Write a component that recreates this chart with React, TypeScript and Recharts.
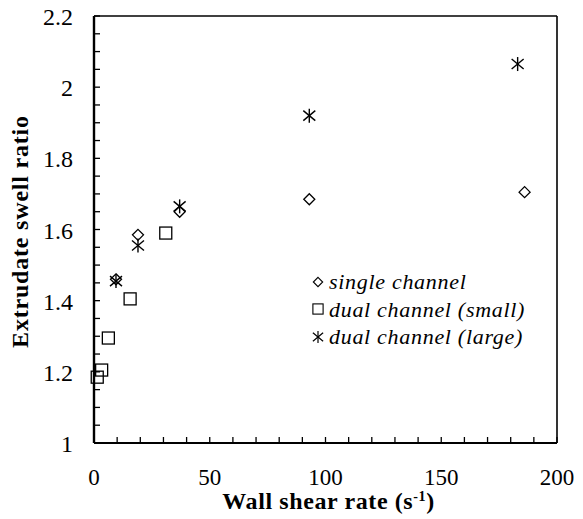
import { Legend, ReferenceLine, Scatter, ScatterChart, XAxis, YAxis } from 'recharts';

const singleX = [9.5, 19, 37, 93, 186];
const singleY = [1.46, 1.585, 1.65, 1.685, 1.705];
const smallX = [1.4, 3.3, 6.2, 15.6, 31];
const smallY = [1.185, 1.205, 1.295, 1.405, 1.59];
const largeX = [9.5, 19, 37, 93, 183];
const largeY = [1.455, 1.555, 1.665, 1.92, 2.065];

const xTicks = [0, 10, 20, 30, 40, 50, 60, 70, 80, 90, 100, 110, 120, 130, 140, 150, 160, 170, 180, 190, 200];
const xLabels = [0, 50, 100, 150, 200];
const yTicks = [
  1, 1.05, 1.1, 1.15, 1.2, 1.25, 1.3, 1.35, 1.4, 1.45, 1.5, 1.55, 1.6, 1.65, 1.7, 1.75, 1.8, 1.85,
  1.9, 1.95, 2, 2.05, 2.1, 2.15, 2.2,
];
const yLabels = [1, 1.2, 1.4, 1.6, 1.8, 2, 2.2];

const toPoints = (xs: number[], ys: number[]) => xs.map((x, i) => ({ x, y: ys[i] }));
const singleData = toPoints(singleX, singleY);
const smallData = toPoints(smallX, smallY);
const largeData = toPoints(largeX, largeY);

const serif = 'Liberation Serif, Times New Roman, Tinos, DejaVu Serif, serif';

const Diamond = ({ cx, cy }: any) => (
  <path
    d={`M${cx},${cy - 5.5} L${cx + 5.5},${cy} L${cx},${cy + 5.5} L${cx - 5.5},${cy} Z`}
    fill="none"
    stroke="#000"
    strokeWidth={1.3}
  />
);

const Square = ({ cx, cy }: any) => (
  <rect x={cx - 6} y={cy - 6} width={12} height={12} fill="none" stroke="#000" strokeWidth={1.3} />
);

const Star = ({ cx, cy }: any) => (
  <g stroke="#000" strokeWidth={1.4}>
    <line x1={cx} y1={cy - 7} x2={cx} y2={cy + 7} />
    <line x1={cx - 6} y1={cy - 5} x2={cx + 6} y2={cy + 5} />
    <line x1={cx - 6} y1={cy + 5} x2={cx + 6} y2={cy - 5} />
  </g>
);

const YTick = ({ x, y, payload }: any) => {
  const v = payload.value;
  return (
    <g>
      <line x1={x} x2={x + 6} y1={y} y2={y} stroke="#000" strokeWidth={1.3} />
      {yLabels.some(l => Math.abs(l - v) < 1e-6) && (
        <text x={x - 21} y={y + 1} textAnchor="end" dominantBaseline="central" style={{ fontFamily: serif, fontSize: 24 }} fill="#000">
          {String(Math.round(v * 10) / 10)}
        </text>
      )}
    </g>
  );
};

const XTick = ({ x, y, payload }: any) => {
  const v = payload.value;
  return (
    <g>
      <line x1={x} x2={x} y1={y} y2={y - 6} stroke="#000" strokeWidth={1.3} />
      {xLabels.includes(v) && (
        <text x={x} y={y + 34} textAnchor="middle" dominantBaseline="central" style={{ fontFamily: serif, fontSize: 23 }} fill="#000">
          {v}
        </text>
      )}
    </g>
  );
};

const XTitle = ({ viewBox }: any) => (
  <text
    x={viewBox.x + viewBox.width / 2 + 3}
    y={viewBox.y + 66}
    textAnchor="middle"
    style={{ fontFamily: serif, fontSize: 24, fontWeight: 'bold', letterSpacing: 0.6 }}
    fill="#000"
  >
    Wall shear rate (s
    <tspan dy={-8} style={{ fontSize: 14 }}>-1</tspan>
    <tspan dy={8}>)</tspan>
  </text>
);

const YTitle = ({ viewBox }: any) => {
  const cx = 20;
  const cy = viewBox.y + viewBox.height / 2 + 2;
  return (
    <text
      x={cx}
      y={cy}
      transform={`rotate(-90, ${cx}, ${cy})`}
      textAnchor="middle"
      dominantBaseline="central"
      style={{ fontFamily: serif, fontSize: 24, fontWeight: 'bold', letterSpacing: 0.8 }}
      fill="#000"
    >
      Extrudate swell ratio
    </text>
  );
};

const legendItems = [
  { name: 'single channel', Icon: Diamond },
  { name: 'dual channel (small)', Icon: Square },
  { name: 'dual channel (large)', Icon: Star },
];

const LegendBox = () => (
  <div
    style={{
      fontFamily: serif,
      fontStyle: 'italic',
      fontSize: 22,
      letterSpacing: 0.7,
      lineHeight: '27.5px',
      color: '#000',
    }}
  >
    {legendItems.map(({ name, Icon }) => (
      <div key={name} style={{ display: 'flex', alignItems: 'center' }}>
        <svg width={16} height={16} style={{ marginRight: 3 }}>
          <g transform="translate(8,8) scale(0.85) translate(-8,-8)">
            <Icon cx={8} cy={8} />
          </g>
        </svg>
        <span>{name}</span>
      </div>
    ))}
  </div>
);

export default function App() {
  return (
    <div style={{ position: 'absolute', left: 0, top: 0, background: '#fff' }}>
      <ScatterChart width={583} height={519} margin={{ top: 16, right: 26, bottom: 0, left: 0 }}>
        <XAxis
          type="number"
          dataKey="x"
          domain={[0, 200]}
          ticks={xTicks}
          interval={0}
          height={76}
          tickSize={0}
          tickMargin={0}
          tick={<XTick />}
          axisLine={{ stroke: '#000', strokeWidth: 2 }}
          label={{ content: <XTitle /> }}
        />
        <YAxis
          type="number"
          dataKey="y"
          domain={[1, 2.2]}
          ticks={yTicks}
          interval={0}
          width={94}
          tickSize={0}
          tickMargin={0}
          tick={<YTick />}
          axisLine={{ stroke: '#000', strokeWidth: 2.4 }}
          label={{ content: <YTitle /> }}
        />
        <ReferenceLine y={2.2} stroke="#000" strokeWidth={1.6} />
        <ReferenceLine x={200} stroke="#000" strokeWidth={1.6} />
        <Legend
          layout="vertical"
          align="center"
          verticalAlign="middle"
          content={<LegendBox />}
          wrapperStyle={{ left: 310, top: 268, width: 260 }}
        />
        <Scatter name="single channel" data={singleData} shape={<Diamond />} isAnimationActive={false} />
        <Scatter name="dual channel (small)" data={smallData} shape={<Square />} isAnimationActive={false} />
        <Scatter name="dual channel (large)" data={largeData} shape={<Star />} isAnimationActive={false} />
      </ScatterChart>
    </div>
  );
}
